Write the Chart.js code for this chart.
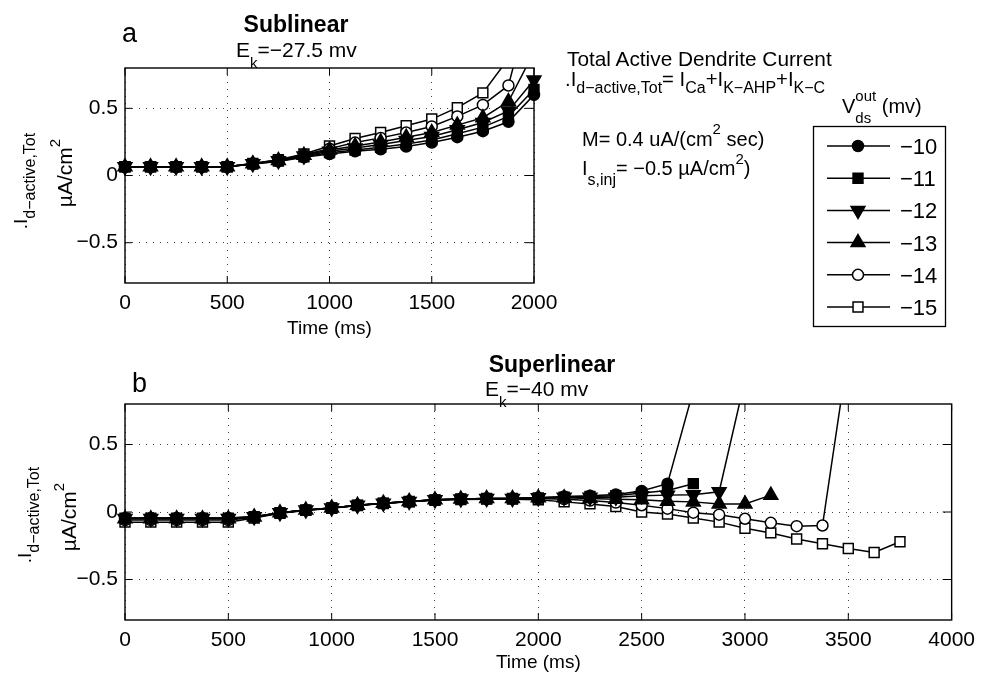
<!DOCTYPE html>
<html>
<head>
<meta charset="utf-8">
<script src="https://cdn.jsdelivr.net/npm/chart.js@4.4.1/dist/chart.umd.min.js"></script>
<style>
  body { margin: 0; background: #fff; }
  #wrap { position: relative; width: 983px; height: 674px; font-family: 'Liberation Sans', Arial, sans-serif; color: #000; overflow: hidden; }
  canvas { position: absolute; left: 0; }
  .t { position: absolute; white-space: nowrap; line-height: 1; z-index: 2; }
  .lo { position: relative; }
  .rot { position: absolute; white-space: nowrap; line-height: 1; z-index: 2; transform: translate(-50%, -50%) rotate(-90deg); }
  .stack { position: relative; display: inline-block; font-size: 15px; line-height: 1; }
</style>
</head>
<body>
<div id="wrap">
  <canvas id="chartA" width="983" height="340" style="top:0"></canvas>
  <canvas id="chartB" width="983" height="334" style="top:340px"></canvas>

  <div class="t" style="left:122px; top:20px; font-size:27px;">a</div>
  <div class="t" style="left:296px; top:13px; font-size:23px; font-weight:bold; transform:translateX(-50%);">Sublinear</div>
  <div class="t" style="left:236px; top:39px; font-size:21px;">E<span class="lo" style="font-size:15px; top:11px;">k</span>=−27.5 mv</div>

  <div class="t" style="left:567px; top:49px; font-size:20.8px;">Total Active Dendrite Current</div>
  <div class="t" style="left:565px; top:69px; font-size:20.3px;">.I<span class="lo" style="font-size:16px; top:7px;">d−active,Tot</span>= I<span class="lo" style="font-size:16px; top:7px;">Ca</span>+I<span class="lo" style="font-size:16px; top:7px;">K−AHP</span>+I<span class="lo" style="font-size:16px; top:7px;">K−C</span></div>
  <div class="t" style="left:582px; top:129px; font-size:20px;">M= 0.4 uA/(cm<span class="lo" style="font-size:15px; top:-12px;">2</span> sec)</div>
  <div class="t" style="left:582px; top:158px; font-size:20px;">I<span class="lo" style="font-size:16px; top:10px;">s,inj</span>= −0.5 µA/cm<span class="lo" style="font-size:15px; top:-11px;">2</span>)</div>
  <div class="t" style="left:842px; top:96px; font-size:20px;">V<span class="stack"><span class="lo" style="top:-12px;">out</span><span style="position:absolute; left:0; top:10px;">ds</span></span> (mv)</div>

  <div class="rot" style="left:20px; top:181px; font-size:19px;">.I<span class="lo" style="font-size:16px; top:8px;">d−active,Tot</span></div>
  <div class="rot" style="left:64px; top:173px; font-size:21px;">µA/cm<span class="lo" style="font-size:15px; top:-12px;">2</span></div>

  <div class="t" style="left:132px; top:370px; font-size:27px;">b</div>
  <div class="t" style="left:552px; top:353px; font-size:23px; font-weight:bold; transform:translateX(-50%);">Superlinear</div>
  <div class="t" style="left:485px; top:378px; font-size:21px;">E<span class="lo" style="font-size:15px; top:11px;">k</span>=−40 mv</div>

  <div class="rot" style="left:24px; top:515px; font-size:19px;">.I<span class="lo" style="font-size:16px; top:8px;">d−active,Tot</span></div>
  <div class="rot" style="left:68px; top:517px; font-size:21px;">µA/cm<span class="lo" style="font-size:15px; top:-12px;">2</span></div>
</div>

<script>
// time points (ms)
var timeA = [0, 125, 250, 375, 500, 625, 750, 875, 1000, 1125, 1250, 1375, 1500, 1625, 1750, 1875, 2000];
var timeB = [0, 125, 250, 375, 500, 625, 750, 875, 1000, 1125, 1250, 1375, 1500, 1625, 1750, 1875, 2000,
             2125, 2250, 2375, 2500, 2625, 2750, 2875, 3000, 3125, 3250, 3375, 3500, 3625, 3750];

var seriesNames = ['−10', '−11', '−12', '−13', '−14', '−15'];

// a: Sublinear, Ek = -27.5 mv
var subV10 = [0.065, 0.065, 0.065, 0.065, 0.065, 0.085, 0.105, 0.135, 0.16, 0.18, 0.195, 0.215, 0.245, 0.285, 0.33, 0.40, 0.60];
var subV11 = [0.065, 0.065, 0.065, 0.065, 0.065, 0.085, 0.108, 0.14, 0.17, 0.19, 0.21, 0.235, 0.265, 0.31, 0.36, 0.44, 0.64];
var subV12 = [0.065, 0.065, 0.065, 0.065, 0.065, 0.087, 0.11, 0.145, 0.18, 0.205, 0.23, 0.26, 0.29, 0.34, 0.395, 0.48, 0.71];
var subV13 = [0.065, 0.065, 0.065, 0.065, 0.065, 0.088, 0.112, 0.15, 0.19, 0.22, 0.25, 0.285, 0.32, 0.375, 0.43, 0.55, 0.92];
var subV14 = [0.065, 0.065, 0.065, 0.065, 0.065, 0.09, 0.115, 0.155, 0.20, 0.245, 0.28, 0.32, 0.365, 0.44, 0.525, 0.67, 1.4];
var subV15 = [0.065, 0.065, 0.065, 0.065, 0.065, 0.09, 0.118, 0.16, 0.22, 0.275, 0.32, 0.37, 0.42, 0.505, 0.615, 0.87, 1.6];

// b: Superlinear, Ek = -40 mv
var supV10 = [-0.045, -0.045, -0.045, -0.045, -0.045, -0.035, -0.005, 0.015, 0.03, 0.05, 0.065, 0.078, 0.09, 0.097, 0.10, 0.10, 0.105,
              0.115, 0.12, 0.13, 0.155, 0.21, 0.90];
var supV11 = [-0.045, -0.045, -0.045, -0.045, -0.045, -0.035, -0.005, 0.015, 0.03, 0.05, 0.065, 0.078, 0.09, 0.097, 0.10, 0.10, 0.105,
              0.11, 0.115, 0.12, 0.14, 0.16, 0.21];
var supV12 = [-0.048, -0.048, -0.048, -0.048, -0.048, -0.036, -0.006, 0.015, 0.03, 0.05, 0.065, 0.078, 0.09, 0.097, 0.10, 0.10, 0.105,
              0.11, 0.11, 0.11, 0.12, 0.125, 0.127, 0.15, 0.98];
var supV13 = [-0.05, -0.05, -0.05, -0.05, -0.05, -0.037, -0.006, 0.014, 0.03, 0.05, 0.065, 0.078, 0.09, 0.096, 0.10, 0.10, 0.105,
              0.105, 0.10, 0.095, 0.09, 0.08, 0.075, 0.06, 0.06, 0.125];
var supV14 = [-0.06, -0.06, -0.06, -0.06, -0.06, -0.04, -0.008, 0.013, 0.03, 0.049, 0.064, 0.077, 0.088, 0.095, 0.098, 0.098, 0.10,
              0.095, 0.085, 0.07, 0.05, 0.025, -0.005, -0.02, -0.05, -0.08, -0.105, -0.10, 1.19];
var supV15 = [-0.075, -0.075, -0.075, -0.075, -0.075, -0.045, -0.01, 0.012, 0.028, 0.048, 0.063, 0.075, 0.087, 0.093, 0.095, 0.095, 0.09,
              0.075, 0.06, 0.04, 0.0, -0.015, -0.045, -0.075, -0.12, -0.155, -0.2, -0.235, -0.27, -0.30, -0.22];

var xTicksA = [0, 500, 1000, 1500, 2000];
var xTicksB = [0, 500, 1000, 1500, 2000, 2500, 3000, 3500, 4000];
var yTicks = [-0.5, 0, 0.5];

// marker look for each Vds value
var markerStyle = ['circle', 'rect', 'triangle', 'triangle', 'circle', 'rect'];
var markerRot = [0, 0, 180, 0, 0, 0];
var markerFill = ['#000', '#000', '#000', '#000', '#fff', '#fff'];
var markerSize = [5.5, 7, 8, 8, 5.5, 7];

var fontFamily = "'Liberation Sans', Arial, sans-serif";
var gridColor = 'rgba(0,0,0,0.75)';

function pts(times, vals) {
    return vals.map(function(v, i) { return { x: times[i], y: v }; });
}

function buildSets(times, lists) {
    return lists.map(function(vals, i) {
        return {
            label: seriesNames[i],
            data: pts(times, vals),
            borderColor: '#000',
            borderWidth: 1.5,
            pointStyle: markerStyle[i],
            pointRotation: markerRot[i],
            pointRadius: markerSize[i],
            pointBackgroundColor: markerFill[i],
            pointBorderColor: '#000',
            pointBorderWidth: 1.5,
            tension: 0,
            clip: { left: 12, right: 12, top: 0, bottom: 0 }
        };
    });
}

function fmtY(v) {
    if (v === 0) return '0';
    return (v < 0 ? '−' : '') + Math.abs(v);
}

// axes box with inward tick marks, like the original figure
var boxPlugin = {
    id: 'boxTicks',
    afterDatasetsDraw: function(chart) {
        var ctx = chart.ctx, a = chart.chartArea;
        var xs = chart.scales.x, ys = chart.scales.y;
        ctx.save();
        ctx.strokeStyle = '#000';
        ctx.lineWidth = 1.4;
        ctx.strokeRect(a.left, a.top, a.right - a.left, a.bottom - a.top);
        ctx.lineWidth = 1;
        ctx.beginPath();
        xs.ticks.forEach(function(t) {
            var px = xs.getPixelForValue(t.value);
            ctx.moveTo(px, a.bottom); ctx.lineTo(px, a.bottom - 7);
            ctx.moveTo(px, a.top); ctx.lineTo(px, a.top + 7);
        });
        ys.ticks.forEach(function(t) {
            var py = ys.getPixelForValue(t.value);
            ctx.moveTo(a.left, py); ctx.lineTo(a.left + 7, py);
            ctx.moveTo(a.right, py); ctx.lineTo(a.right - 9, py);
        });
        ctx.stroke();
        ctx.restore();
    }
};

// boxed legend to the right of panel a
var legendPlugin = {
    id: 'sideLegend',
    afterDraw: function(chart) {
        var ctx = chart.ctx;
        ctx.save();
        ctx.strokeStyle = '#000';
        ctx.lineWidth = 1.3;
        ctx.strokeRect(813.5, 126.5, 132, 200);
        ctx.font = '22px ' + fontFamily;
        ctx.textBaseline = 'alphabetic';
        ctx.fillStyle = '#000';
        chart.data.datasets.forEach(function(ds, i) {
            var y = 146 + i * 32.2;
            ctx.lineWidth = 1.5;
            ctx.beginPath();
            ctx.moveTo(827, y); ctx.lineTo(890, y);
            ctx.stroke();
            ctx.fillStyle = ds.pointBackgroundColor;
            Chart.helpers.drawPoint(ctx, {
                pointStyle: ds.pointStyle, rotation: ds.pointRotation,
                radius: ds.pointRadius, borderWidth: 1.5
            }, 858, y);
            ctx.fillStyle = '#000';
            ctx.fillText(ds.label, 900, y + 8);
        });
        ctx.restore();
    }
};

function axisOpts(xMax, xTicks, axisH) {
    return {
        x: {
            type: 'linear', min: 0, max: xMax,
            afterBuildTicks: function(s) { s.ticks = xTicks.map(function(v) { return { value: v }; }); },
            afterFit: function(s) { s.height = axisH; },
            grid: { color: gridColor, lineWidth: 1, drawTicks: false },
            border: { display: false, dash: [1, 6] },
            ticks: { color: '#000', padding: 8, maxRotation: 0, font: { family: fontFamily, size: 21 },
                     callback: function(v) { return String(v); } },
            title: { display: true, text: 'Time (ms)', color: '#000', padding: 0,
                     font: { family: fontFamily, size: 19 } }
        },
        y: {
            min: -0.8, max: 0.8,
            afterBuildTicks: function(s) { s.ticks = yTicks.map(function(v) { return { value: v }; }); },
            afterFit: function(s) { s.width = 125; },
            grid: { color: gridColor, lineWidth: 1, drawTicks: false },
            border: { display: false, dash: [1, 6] },
            ticks: { color: '#000', padding: 7, font: { family: fontFamily, size: 21 }, callback: fmtY }
        }
    };
}

var chartA = new Chart(document.getElementById('chartA').getContext('2d'), {
    type: 'line',
    data: { datasets: buildSets(timeA, [subV10, subV11, subV12, subV13, subV14, subV15]) },
    options: {
        responsive: false,
        animation: false,
        events: [],
        layout: { padding: { left: 0, right: 449, top: 68, bottom: 0 } },
        plugins: { legend: { display: false }, tooltip: { enabled: false } },
        scales: axisOpts(2000, xTicksA, 57)
    },
    plugins: [boxPlugin, legendPlugin]
});

var chartB = new Chart(document.getElementById('chartB').getContext('2d'), {
    type: 'line',
    data: { datasets: buildSets(timeB, [supV10, supV11, supV12, supV13, supV14, supV15]) },
    options: {
        responsive: false,
        animation: false,
        events: [],
        layout: { padding: { left: 0, right: 28, top: 64, bottom: 0 } },
        plugins: { legend: { display: false }, tooltip: { enabled: false } },
        scales: axisOpts(4000, xTicksB, 54)
    },
    plugins: [boxPlugin]
});
</script>
</body>
</html>
